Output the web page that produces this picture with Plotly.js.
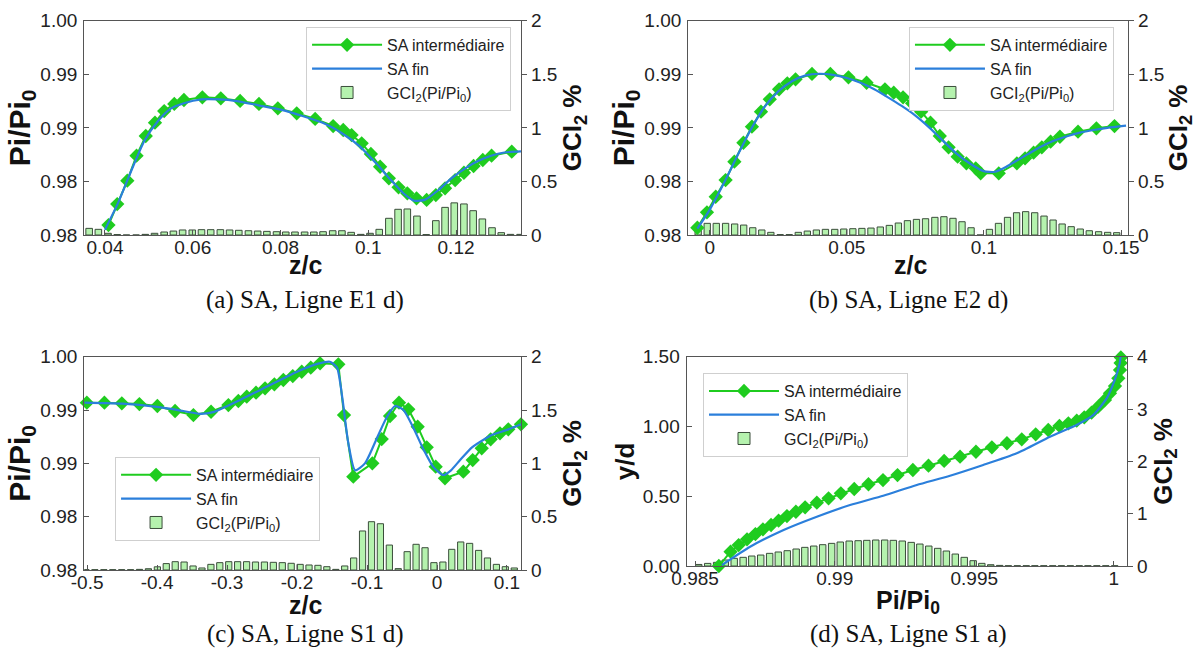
<!DOCTYPE html>
<html><head><meta charset="utf-8">
<script src="https://cdn.plot.ly/plotly-3.0.1.min.js"></script>
<style>html,body{margin:0;padding:0;background:#fff}#chart{width:1196px;height:653px}</style>
</head><body><div id="chart"></div>
<script>
// ---------- Panel (a) SA, Ligne E1 d) ----------
const a_inter_x = [0.0408,0.0428,0.0451,0.0472,0.0493,0.0514,0.0535,0.0558,0.0580,0.0622,0.0664,0.0708,0.0751,0.0794,0.0837,0.0879,0.0920,0.0943,0.0962,0.0985,0.1006,0.1027,0.1047,0.1069,0.1089,0.1110,0.1133,0.1154,0.1175,0.1198,0.1218,0.1240,0.1261,0.1281,0.1327];
const a_inter_y = [0.98093,0.98289,0.98507,0.98740,0.98924,0.99048,0.99157,0.99223,0.99260,0.99285,0.99276,0.99251,0.99223,0.99182,0.99136,0.99083,0.99017,0.98980,0.98933,0.98856,0.98756,0.98637,0.98529,0.98445,0.98389,0.98342,0.98327,0.98373,0.98436,0.98513,0.98581,0.98644,0.98700,0.98740,0.98778];
const a_fin_x = [0.0400,0.0430,0.0460,0.0490,0.0520,0.0550,0.0580,0.0620,0.0660,0.0700,0.0750,0.0800,0.0850,0.0900,0.0940,0.0980,0.1020,0.1050,0.1080,0.1105,0.1130,0.1160,0.1190,0.1220,0.1250,0.1280,0.1310,0.1348];
const a_fin_y = [0.98050,0.98300,0.98600,0.98880,0.99060,0.99180,0.99230,0.99265,0.99265,0.99250,0.99210,0.99170,0.99110,0.99040,0.98950,0.98830,0.98660,0.98520,0.98390,0.98320,0.98330,0.98420,0.98530,0.98620,0.98690,0.98740,0.98770,0.98780];
const a_gci_x = [0.0364,0.0385,0.0407,0.0428,0.0449,0.0471,0.0492,0.0513,0.0535,0.0556,0.0577,0.0599,0.0620,0.0641,0.0663,0.0684,0.0705,0.0727,0.0748,0.0769,0.0791,0.0812,0.0833,0.0855,0.0876,0.0897,0.0919,0.0940,0.0961,0.0983,0.1004,0.1025,0.1047,0.1068,0.1089,0.1111,0.1132,0.1154,0.1175,0.1196,0.1218,0.1239,0.1260,0.1282,0.1303,0.1324,0.1346];
const a_gci_y = [0.062,0.053,0.016,0.004,0,0,0.006,0.016,0.028,0.037,0.047,0.047,0.050,0.050,0.050,0.047,0.044,0.040,0.037,0.034,0.031,0.028,0.028,0.028,0.028,0.031,0.040,0.040,0.025,0.006,0.016,0.053,0.156,0.240,0.243,0.177,0.004,0.134,0.258,0.300,0.290,0.227,0.150,0.068,0.022,0.006,0.006];
const a_xtickvals = [0.04,0.06,0.08,0.1,0.12];
const a_xticktext = ['0.04','0.06','0.08','0.1','0.12'];

// ---------- Panel (b) SA, Ligne E2 d) ----------
const b_inter_x = [-0.0045,-0.0010,0.0022,0.0058,0.0090,0.0123,0.0154,0.0187,0.0219,0.0253,0.0283,0.0313,0.0373,0.0440,0.0506,0.0572,0.0639,0.0671,0.0705,0.0738,0.0771,0.0805,0.0839,0.0871,0.0904,0.0936,0.0970,0.0988,0.1054,0.1120,0.1150,0.1181,0.1211,0.1243,0.1277,0.1343,0.1410,0.1476];
const b_inter_y = [0.98068,0.98212,0.98357,0.98513,0.98684,0.98861,0.99011,0.99151,0.99266,0.99360,0.99416,0.99453,0.99503,0.99503,0.99472,0.99421,0.99360,0.99328,0.99285,0.99229,0.99151,0.99048,0.98924,0.98818,0.98731,0.98669,0.98622,0.98576,0.98576,0.98669,0.98716,0.98768,0.98818,0.98871,0.98917,0.98964,0.98996,0.99017];
const b_fin_x = [-0.0045,0.000,0.005,0.010,0.015,0.020,0.025,0.030,0.035,0.040,0.045,0.050,0.055,0.060,0.065,0.070,0.075,0.080,0.085,0.090,0.095,0.100,0.104,0.108,0.112,0.116,0.120,0.125,0.130,0.135,0.140,0.145,0.1518];
const b_fin_y = [0.98060,0.98235,0.98475,0.98735,0.98985,0.99195,0.99340,0.99435,0.99490,0.99505,0.99495,0.99465,0.99420,0.99360,0.99285,0.99205,0.99115,0.99005,0.98880,0.98760,0.98665,0.98595,0.98590,0.98635,0.98695,0.98755,0.98815,0.98875,0.98920,0.98955,0.98980,0.99000,0.99020];
const b_gci_x = [-0.0042,-0.0009,0.0024,0.0058,0.0091,0.0124,0.0157,0.0190,0.0223,0.0257,0.0290,0.0323,0.0356,0.0389,0.0422,0.0456,0.0489,0.0522,0.0555,0.0588,0.0622,0.0655,0.0688,0.0721,0.0754,0.0787,0.0821,0.0854,0.0887,0.0920,0.0953,0.0986,0.1020,0.1053,0.1086,0.1119,0.1152,0.1185,0.1219,0.1252,0.1285,0.1318,0.1351,0.1384,0.1418,0.1451,0.1484];
const b_gci_y = [0.084,0.109,0.109,0.109,0.103,0.093,0.068,0.047,0.025,0.004,0.004,0.025,0.037,0.047,0.053,0.053,0.056,0.059,0.062,0.065,0.075,0.090,0.112,0.134,0.146,0.152,0.165,0.171,0.156,0.124,0.068,0,0.053,0.109,0.165,0.208,0.218,0.208,0.177,0.140,0.103,0.078,0.056,0.040,0.031,0.025,0.022];
const b_xtickvals = [0,0.05,0.1,0.15];
const b_xticktext = ['0','0.05','0.1','0.15'];

// ---------- Panel (c) SA, Ligne S1 d) ----------
const c_inter_x = [-0.5004,-0.4753,-0.4504,-0.4253,-0.3996,-0.3743,-0.3481,-0.3229,-0.2981,-0.2839,-0.2719,-0.2586,-0.2457,-0.2324,-0.2196,-0.2061,-0.1933,-0.1804,-0.1671,-0.1410,-0.1329,-0.1196,-0.0924,-0.0790,-0.0671,-0.0543,-0.0410,-0.0276,-0.0147,-0.0019,0.0114,0.0376,0.0510,0.0639,0.0767,0.0900,0.1019,0.1200];
const c_inter_y = [0.99569,0.99569,0.99563,0.99556,0.99538,0.99491,0.99453,0.99484,0.99547,0.99585,0.99625,0.99663,0.99704,0.99741,0.99782,0.99819,0.99859,0.99897,0.99938,0.99929,0.99453,0.98875,0.99000,0.99228,0.99444,0.99569,0.99507,0.99344,0.99150,0.98969,0.98860,0.98922,0.99031,0.99141,0.99225,0.99282,0.99319,0.99366];
const c_fin_x = [-0.504,-0.45,-0.40,-0.37,-0.34,-0.32,-0.28,-0.24,-0.20,-0.17,-0.153,-0.143,-0.135,-0.127,-0.117,-0.103,-0.085,-0.072,-0.060,-0.048,-0.035,-0.020,-0.005,0.009,0.020,0.033,0.050,0.066,0.080,0.0995,0.120];
const c_fin_y = [0.99570,0.99560,0.99530,0.99500,0.99465,0.99480,0.99600,0.99730,0.99860,0.99935,0.99953,0.99900,0.99600,0.99200,0.98935,0.99000,0.99250,0.99430,0.99538,0.99500,0.99350,0.99140,0.98965,0.98891,0.98935,0.99031,0.99150,0.99219,0.99270,0.99313,0.99366];
const c_gci_x = [-0.5016,-0.4889,-0.4761,-0.4634,-0.4506,-0.4379,-0.4251,-0.4124,-0.3996,-0.3869,-0.3741,-0.3614,-0.3486,-0.3359,-0.3231,-0.3104,-0.2976,-0.2849,-0.2721,-0.2594,-0.2466,-0.2339,-0.2211,-0.2084,-0.1956,-0.1829,-0.1701,-0.1574,-0.1446,-0.1319,-0.1191,-0.1064,-0.0936,-0.0809,-0.0681,-0.0554,-0.0426,-0.0299,-0.0171,-0.0044,0.0084,0.0211,0.0339,0.0466,0.0594,0.0721,0.0849,0.0976,0.1104];
const c_gci_y = [0.003,0.003,0.003,0.003,0.003,0.003,0.006,0.012,0.030,0.060,0.078,0.075,0.038,0.019,0.053,0.069,0.078,0.078,0.078,0.075,0.075,0.072,0.069,0.063,0.053,0.047,0.044,0.031,0.006,0.038,0.113,0.366,0.453,0.434,0.234,0.013,0.172,0.241,0.209,0.069,0.075,0.194,0.263,0.250,0.184,0.113,0.053,0.031,0.019];
const c_xtickvals = [-0.5,-0.4,-0.3,-0.2,-0.1,0,0.1];
const c_xticktext = ['-0.5','-0.4','-0.3','-0.2','-0.1','0','0.1'];

// ---------- Panel (d) SA, Ligne S1 a) ----------
const d_inter_x = [0.98585,0.98627,0.98656,0.98686,0.98716,0.98743,0.98772,0.98799,0.98829,0.98861,0.98894,0.98936,0.98978,0.99022,0.99070,0.99121,0.99173,0.99225,0.99280,0.99336,0.99392,0.99449,0.99506,0.99563,0.99617,0.99670,0.99720,0.99765,0.99805,0.99837,0.99867,0.99894,0.99920,0.99944,0.99968,0.99986,1.00004,1.00016,1.00022,1.00024,1.00025];
const d_inter_y = [0.000,0.103,0.150,0.191,0.229,0.263,0.294,0.325,0.358,0.389,0.421,0.454,0.485,0.521,0.552,0.586,0.616,0.652,0.688,0.719,0.753,0.784,0.819,0.851,0.880,0.908,0.944,0.975,1.004,1.023,1.042,1.066,1.099,1.142,1.190,1.238,1.290,1.345,1.405,1.455,1.495];
const d_fin_x = [0.98596,0.98697,0.98817,0.98936,0.99055,0.99174,0.99294,0.99413,0.99532,0.99652,0.99771,0.99866,0.99926,0.99974,1.00003,1.00021,1.00024];
const d_fin_y = [0.007,0.138,0.258,0.353,0.437,0.504,0.581,0.647,0.724,0.808,0.927,1.011,1.082,1.202,1.333,1.453,1.500];
const d_gci_x = [0.98513,0.98545,0.98577,0.98608,0.98640,0.98672,0.98703,0.98735,0.98767,0.98798,0.98830,0.98862,0.98893,0.98925,0.98957,0.98989,0.99020,0.99052,0.99084,0.99115,0.99147,0.99179,0.99210,0.99242,0.99274,0.99305,0.99337,0.99369,0.99400,0.99432,0.99464,0.99496,0.99527,0.99559,0.99591,0.99622,0.99654,0.99686,0.99717,0.99749,0.99781,0.99812,0.99844,0.99876,0.99907,0.99939,0.99971,1.00003];
const d_gci_y = [0.030,0.050,0.070,0.115,0.147,0.166,0.191,0.210,0.242,0.268,0.293,0.325,0.357,0.382,0.408,0.433,0.459,0.478,0.484,0.491,0.497,0.497,0.491,0.478,0.452,0.420,0.382,0.338,0.287,0.229,0.166,0.102,0.051,0.025,0.012,0.006,0.006,0.006,0.006,0.006,0.006,0.006,0.006,0.006,0.006,0.006,0.006,0.006];
const d_xtickvals = [0.985,0.99,0.995,1];
const d_xticktext = ['0.985','0.99','0.995','1'];

// ---------- shared tick labels ----------
const pi_tickvals = [0.98,0.985,0.99,0.995,1.0];
const pi_ticktext = ['0.98','0.98','0.99','0.99','1.00'];
const gci_tickvals = [0,0.5,1,1.5,2];
const gci_ticktext = ['0','0.5','1','1.5','2'];
const yd_tickvals = [0,0.5,1,1.5];
const yd_ticktext = ['0.00','0.50','1.00','1.50'];
const gci4_tickvals = [0,1,2,3,4];
const gci4_ticktext = ['0','1','2','3','4'];

const captions = ['(a) SA, Ligne E1 d)','(b) SA, Ligne E2 d)','(c) SA, Ligne S1 d)','(d) SA, Ligne S1 a)'];
const xTitles = ['z/c','z/c','z/c','Pi/Pi<sub>0</sub>'];
const seriesNames = ['SA intermédiaire','SA fin','GCI<sub>2</sub>(Pi/Pi<sub>0</sub>)'];

// ---------- styles ----------
const GREEN = '#1fcc1f', BLUE = '#2b7fdb', BARFILL = '#b5f2ae', BAREDGE = '#3b4d3b', AXC = '#555';
const FONT = 'Liberation Sans, Arial, Helvetica, sans-serif';
const tickFont = {family: FONT, size: 19, color: '#222'};
const titleFont = {family: FONT, size: 26, color: '#111', weight: 'bold'};
const xTitleFont = {family: FONT, size: 25, color: '#111', weight: 'bold'};
const piTitleFont = {family: FONT, size: 30, color: '#111', weight: 'bold'};

function panelTraces(ix, iy, fx, fy, gx, gy, xa, yBar, yLine, legendId, barWidth) {
  return [
    {type:'scatter', mode:'lines+markers', x: ix, y: iy, xaxis: xa, yaxis: yLine, name: seriesNames[0],
     legend: legendId, cliponaxis: false,
     line:{color: GREEN, width: 2}, marker:{symbol:'diamond', size: 11, color: GREEN}},
    {type:'scatter', mode:'lines', x: fx, y: fy, xaxis: xa, yaxis: yLine, name: seriesNames[1],
     legend: legendId, line:{color: BLUE, width: 2.2, shape:'spline', smoothing: 0.6}},
    {type:'bar', x: gx, y: gy, xaxis: xa, yaxis: yBar, name: seriesNames[2], legend: legendId,
     width: barWidth, marker:{color: BARFILL, line:{color: BAREDGE, width: 1}}}
  ];
}

const data = [].concat(
  panelTraces(a_inter_x, a_inter_y, a_fin_x, a_fin_y, a_gci_x, a_gci_y, 'x', 'y', 'y2', 'legend', 0.0015),
  panelTraces(b_inter_x, b_inter_y, b_fin_x, b_fin_y, b_gci_x, b_gci_y, 'x2', 'y3', 'y4', 'legend2', 0.0023),
  panelTraces(c_inter_x, c_inter_y, c_fin_x, c_fin_y, c_gci_x, c_gci_y, 'x3', 'y5', 'y6', 'legend3', 0.0089),
  panelTraces(d_inter_x, d_inter_y, d_fin_x, d_fin_y, d_gci_x, d_gci_y, 'x4', 'y7', 'y8', 'legend4', 0.00023)
);

function xAxis(domain, anchor, range, tv, tt) {
  return {domain, anchor, range, tickmode:'array', tickvals: tv, ticktext: tt,
    showline:true, mirror:true, linecolor: AXC, linewidth:1.2, ticks:'inside', ticklen:5, tickcolor: AXC,
    showgrid:false, zeroline:false, tickfont: tickFont, ticklabelstandoff: -5};
}
function yBarAxis(domain, anchor, range, tv, tt) {
  return {domain, anchor, range, side:'right', tickmode:'array', tickvals: tv, ticktext: tt,
    showline:true, mirror:true, linecolor: AXC, linewidth:1.2, ticks:'outside', ticklen:5, tickcolor: AXC,
    showgrid:false, zeroline:false, tickfont: tickFont,
    title:{text:'GCI<sub>2</sub> %', font: titleFont, standoff: 6}};
}
function yLineAxis(overlay, anchor, range, tv, tt, title, tfont) {
  return {overlaying: overlay, anchor, range, side:'left', tickmode:'array', tickvals: tv, ticktext: tt,
    showline:true, linecolor: AXC, linewidth:1.2, ticks:'inside', ticklen:5, tickcolor: AXC,
    showgrid:false, zeroline:false, tickfont: tickFont, ticklabelstandoff: 2,
    title:{text: title, font: tfont, standoff: 0}};
}
function legendBox(x, y) {
  return {x, y, xanchor:'left', yanchor:'top', bgcolor:'#ffffff', bordercolor:'#cfcfcf', borderwidth:1,
    font:{family: FONT, size:16, color:'#222'}, itemwidth: 70, traceorder:'normal', tracegroupgap: 0};
}

const colA = [0.0705, 0.4356], colB = [0.5755, 0.9431], colD = [0.5742, 0.9423];
const rowTop = [0.6401, 0.9683], rowBotC = [0.1271, 0.4537], rowBotD = [0.1332, 0.4537];

const captionAnn = [[305,300],[908,300],[305,634],[908,634]].map((p, i) => ({
  text: captions[i], x: p[0]/1196, y: 1 - p[1]/653, xref:'paper', yref:'paper',
  xanchor:'center', yanchor:'middle', showarrow:false,
  font:{family:'Liberation Serif, Times New Roman, serif', size:25, color:'#111'}}));
const xTitleAnn = [[305,265],[910,265],[305,605],[908,602]].map((p, i) => ({
  text: xTitles[i], x: p[0]/1196, y: 1 - p[1]/653, xref:'paper', yref:'paper',
  xanchor:'center', yanchor:'middle', showarrow:false, borderpad: 0, font: xTitleFont}));

const layout = {
  width:1196, height:653, margin:{l:0,r:0,t:0,b:0}, paper_bgcolor:'#fff', plot_bgcolor:'rgba(0,0,0,0)',
  font:{family: FONT, color:'#222'}, barmode:'overlay', showlegend:true,
  xaxis:  xAxis(colA, 'y',  [0.0353, 0.1348], a_xtickvals, a_xticktext),
  yaxis:  yBarAxis(rowTop, 'x', [0, 2], gci_tickvals, gci_ticktext),
  yaxis2: yLineAxis('y', 'x', [0.98, 1.0], pi_tickvals, pi_ticktext, 'Pi/Pi<sub>0</sub>', piTitleFont),
  xaxis2: xAxis(colB, 'y3', [-0.0078, 0.1525], b_xtickvals, b_xticktext),
  yaxis3: yBarAxis(rowTop, 'x2', [0, 2], gci_tickvals, gci_ticktext),
  yaxis4: yLineAxis('y3', 'x2', [0.98, 1.0], pi_tickvals, pi_ticktext, 'Pi/Pi<sub>0</sub>', piTitleFont),
  xaxis3: xAxis(colA, 'y5', [-0.504, 0.12], c_xtickvals, c_xticktext),
  yaxis5: yBarAxis(rowBotC, 'x3', [0, 2], gci_tickvals, gci_ticktext),
  yaxis6: yLineAxis('y5', 'x3', [0.98, 1.0], pi_tickvals, pi_ticktext, 'Pi/Pi<sub>0</sub>', piTitleFont),
  xaxis4: xAxis(colD, 'y7', [0.9847, 1.00047], d_xtickvals, d_xticktext),
  yaxis7: yBarAxis(rowBotD, 'x4', [0, 4], gci4_tickvals, gci4_ticktext),
  yaxis8: yLineAxis('y7', 'x4', [0, 1.5], yd_tickvals, yd_ticktext, 'y/d', titleFont),
  legend:  legendBox(0.2559, 0.9587),
  legend2: legendBox(0.7600, 0.9587),
  legend3: legendBox(0.0962, 0.3002),
  legend4: legendBox(0.5878, 0.4288),
  annotations: captionAnn.concat(xTitleAnn)
};

Plotly.newPlot('chart', data, layout, {displayModeBar:false, staticPlot:true});
</script></body></html>
